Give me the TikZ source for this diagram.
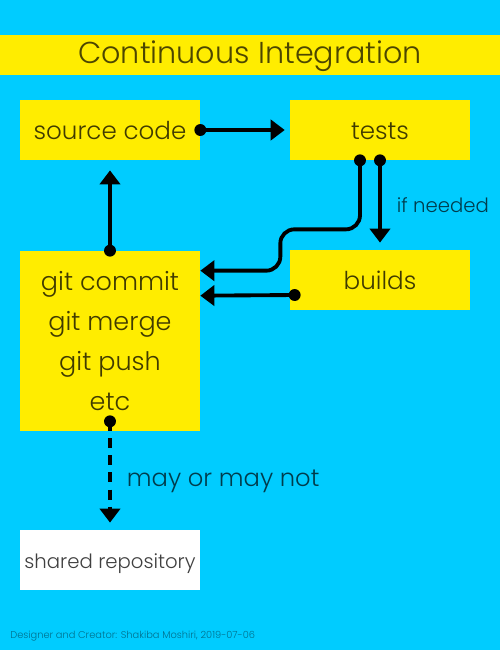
\documentclass[tikz,border=0pt]{standalone}
\usepackage{fontspec}
\IfFontExistsTF{Poppins Light}{\setmainfont{Poppins Light}}{\setmainfont{Poppins}}
\usetikzlibrary{arrows.meta,calc}
\definecolor{sky}{RGB}{0,204,255}
\definecolor{lemon}{RGB}{255,237,0}

\begin{document}
\begin{tikzpicture}[x=0.02cm,y=-0.02cm,
  box/.style={fill=lemon,minimum width=3.6cm,minimum height=1.2cm,inner sep=0pt,
    text height=14pt,text depth=2.66pt,text opacity=0.75,font=\fontsize{14}{16}\selectfont},
  conn/.style={line width=2.2pt,-{Triangle[width=11.5pt,length=8pt]}},
  lbl/.style={text opacity=0.7,inner sep=0pt}]
  \fill[sky] (0,0) rectangle (500,650);
  \fill[lemon] (0,35) rectangle (500,75);
  \node[lbl,text height=13.8pt,text depth=3.6pt,font=\fontsize{17.2}{20}\selectfont] (title) at (250,55)
    {Continuous Integration};
  \node[box] (src) at (110,130) {source code};
  \node[box] (tests) at (380,130) {tests};
  \node[box] (builds) at (380,280) {builds};
  \node[box,minimum height=3.6cm,align=center,text height=,text depth=,font=\fontsize{14.5}{22.6}\selectfont]
    (git) at (110,341) {git commit\\git merge\\git push\\etc};
  \node[box,fill=white,text height=11.2pt,text depth=1pt,font=\fontsize{11.2}{13}\selectfont] (repo) at (110,560)
    {shared repository};

  \coordinate (t1) at ($(tests.south)+(-20,0)$);
  \coordinate (t2) at (tests.south);
  \coordinate (b1) at ($(builds.west)+(5,15)$);
  \coordinate (g1) at ($(git.north east)+(0,20)$);
  \coordinate (g2) at ($(git.north east)+(0,45)$);
  \coordinate (g3) at ($(git.south)+(0,-10)$);

  \draw[conn,shorten >=2.8pt] (src.east) -- (tests.west);
  \draw[conn,shorten >=5.7pt] (git.north) -- (src.south);
  \draw[conn,shorten >=4pt] (t2) -- (builds.north)
    node[lbl,midway,right=8.5pt,font=\fontsize{11.2}{13}\selectfont] (need) {if needed};
  \draw[conn,rounded corners=8pt] (t1) -- ($(t1)+(0,69)$) -| ($(g1)+(80,0)$) -- (g1);
  \draw[conn] (b1) -- (g2);
  \draw[conn,dash pattern=on 5.7pt off 4pt,shorten >=4pt] (g3) -- (repo.north)
    node[lbl,pos=0.55,right=8.5pt,font=\fontsize{13.8}{16}\selectfont] (may) {may or may not};
  \foreach \p in {src.east,git.north,t1,t2,b1,g3}
    \fill (\p) circle (3.4pt);

  \node[anchor=west,text opacity=0.45,font=\fontsize{5.6}{7}\selectfont,inner sep=0pt] (credit) at (10,636)
    {Designer and Creator: Shakiba Moshiri, 2019-07-06};
\end{tikzpicture}
\end{document}
